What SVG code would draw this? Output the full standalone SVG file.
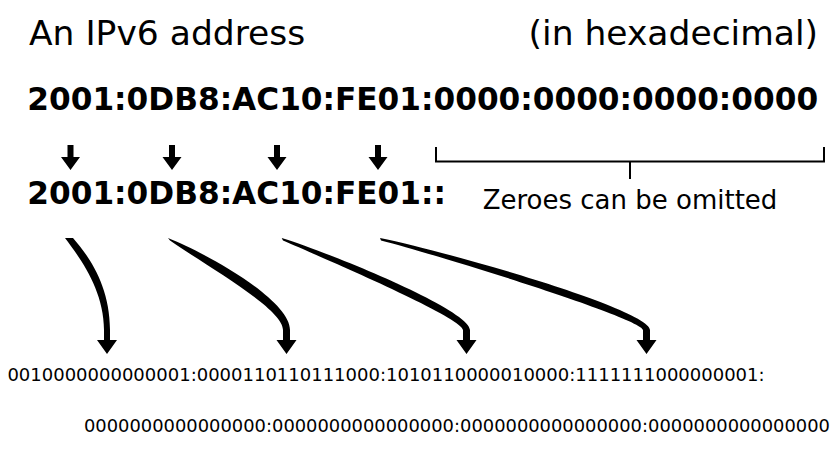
<svg xmlns="http://www.w3.org/2000/svg" width="840" height="450" viewBox="0 0 840 450">
<style>
.t{font-family:"DejaVu Sans","Liberation Sans",sans-serif;fill:#000}
.title{font-size:34.5px}
.hex{font-size:31.2px;font-weight:bold}
.note{font-size:26px}
.bin{font-size:18px}
.arr{fill:#000;stroke:none}
.br{fill:none;stroke:#000;stroke-width:2}
</style>
<rect width="840" height="450" fill="#fff"/>
<g id="title">
<text class="t title" x="29" y="45">An IPv6 address</text>
<text class="t title" x="818" y="45" text-anchor="end">(in hexadecimal)</text>
</g>
<g id="full-address">
<text class="t hex" x="27.3" y="109.5">2001:0DB8:AC10:FE01:0000:0000:0000:0000</text>
</g>
<g id="short-address">
<text class="t hex" x="27.3" y="203.5">2001:0DB8:AC10:FE01::</text>
</g>
<g id="omit-note">
<path class="br" d="M436,147 V161.5 H824 V147 M630,161.5 V179"/>
<text class="t note" x="630" y="209" text-anchor="middle">Zeroes can be omitted</text>
</g>
<g id="binary">
<text class="t bin" x="7.4" y="381">0010000000000001:0000110110111000:1010110000010000:1111111000000001:</text>
<text class="t bin" x="84" y="432" textLength="746" lengthAdjust="spacingAndGlyphs">0000000000000000:0000000000000000:0000000000000000:0000000000000000</text>
</g>
<g id="connectors">
<path class="arr" d="M67.5,145 h6 v12 h6.5 l-9.5,13 l-9.5,-13 h6.5 z"/>
<path class="arr" d="M169,145 h6 v12 h6.5 l-9.5,13 l-9.5,-13 h6.5 z"/>
<path class="arr" d="M274,145 h6 v12 h6.5 l-9.5,13 l-9.5,-13 h6.5 z"/>
<path class="arr" d="M375,145 h6 v12 h6.5 l-9.5,13 l-9.5,-13 h6.5 z"/>
<path class="arr" d="M65,238 C80,258 104,290 104,330 L104,340 L97,340 L107,354 L117,340 L110,340 L110,330 C110,285 88,255 73,238 Z"/>
<path class="arr" d="M168,238 C208,254 290,300 290,330 L290,340 L296.5,340 L286.5,354 L276.5,340 L283,340 L283,330 C283,308 203,264 170,240.5 Z"/>
<path class="arr" d="M281.7,238 C331.7,253.5 470,310 470,330 L470,340 L476.5,340 L466.5,354 L456.5,340 L463,340 L463,330 C463,318 328,260 283,240.5 Z"/>
<path class="arr" d="M380,238 C455,253.5 650,310 650,330 L650,340 L656.5,340 L646.5,354 L636.5,340 L643,340 L643,330 C643,319 452,259 381,240.5 Z"/>
</g>
</svg>
